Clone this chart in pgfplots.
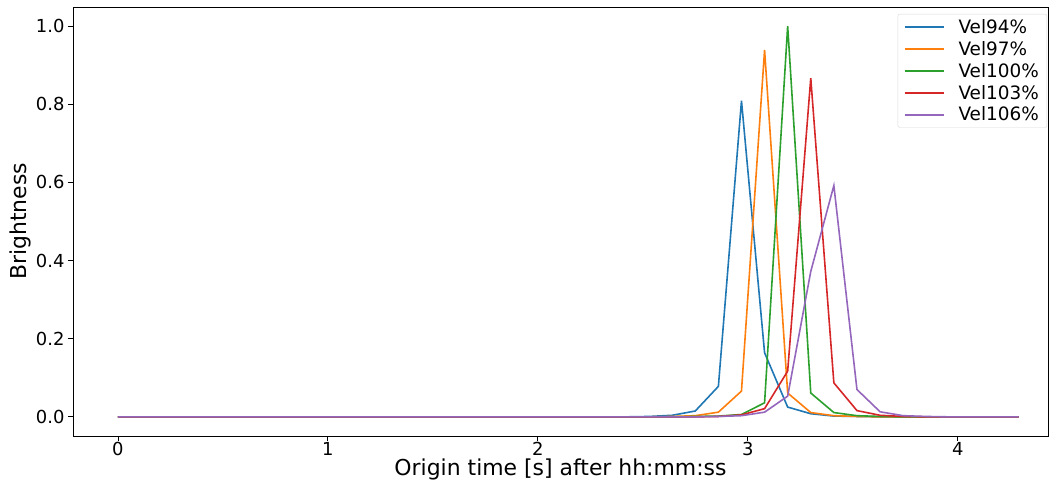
\documentclass[border=0pt]{standalone}
\usepackage{fontspec}
\setmainfont{DejaVu Sans}
\usepackage{pgfplots}
\usepackage{pgfplotstable}
\pgfplotsset{compat=1.18}
\usetikzlibrary{calc}

\definecolor{c0}{HTML}{1F77B4}
\definecolor{c1}{HTML}{FF7F0E}
\definecolor{c2}{HTML}{2CA02C}
\definecolor{c3}{HTML}{D62728}
\definecolor{c4}{HTML}{9467BD}

% brightness per origin time, one column per velocity
\pgfplotstableread{
x    v94   v97   v100  v103  v106
0.00 0     0     0     0     0
0.11 0     0     0     0     0
0.22 0     0     0     0     0
0.33 0     0     0     0     0
0.44 0     0     0     0     0
0.55 0     0     0     0     0
0.66 0     0     0     0     0
0.77 0     0     0     0     0
0.88 0     0     0     0     0
0.99 0     0     0     0     0
1.10 0     0     0     0     0
1.21 0     0     0     0     0
1.32 0     0     0     0     0
1.43 0     0     0     0     0
1.54 0     0     0     0     0
1.65 0     0     0     0     0
1.76 0     0     0     0     0
1.87 0     0     0     0     0
1.98 0     0     0     0     0
2.09 0     0     0     0     0
2.20 0     0     0     0     0
2.31 0     0     0     0     0
2.42 0     0     0     0     0
2.53 0.001 0     0     0     0
2.64 0.004 0.001 0     0     0
2.75 0.015 0.003 0.001 0     0
2.86 0.078 0.012 0.002 0.001 0.001
2.97 0.809 0.066 0.006 0.005 0.003
3.08 0.164 0.939 0.036 0.021 0.012
3.19 0.025 0.061 1.000 0.117 0.053
3.30 0.008 0.011 0.061 0.867 0.372
3.41 0.002 0.003 0.011 0.087 0.592
3.52 0.001 0.001 0.003 0.016 0.070
3.63 0     0     0.001 0.004 0.013
3.74 0     0     0     0.001 0.003
3.85 0     0     0     0     0.001
3.96 0     0     0     0     0
4.07 0     0     0     0     0
4.18 0     0     0     0     0
4.29 0     0     0     0     0
}\brightness

\begin{document}
\begin{tikzpicture}
\begin{axis}[
    name=ax,
    scale only axis,
    width=975bp, height=429bp,
    xmin=-0.214, xmax=4.43,
    ymin=-0.049, ymax=1.049,
    xtick={0,1,2,3,4},
    ytick={0,0.2,0.4,0.6,0.8,1.0},
    yticklabel style={/pgf/number format/fixed, /pgf/number format/fixed zerofill, /pgf/number format/precision=1},
    ticklabel style={font=\fontsize{18}{21}\selectfont},
    xticklabel style={inner sep=1bp},
    /pgf/number format/assume math mode=true,
    tick align=outside,
    major tick length=5bp,
    xtick pos=bottom, ytick pos=left,
    axis line style={line width=0.8bp},
    tick style={line width=0.8bp, black},
    xlabel={Origin time [s] after hh:mm:ss},
    ylabel={Brightness},
    label style={font=\fontsize{22}{25}\selectfont},
    xlabel style={yshift=1bp},
    ylabel style={yshift=-2bp},
    legend style={at={(0.999,0.984)}, anchor=north east, draw=black!15, rounded corners=2bp,
        fill=white, font=\fontsize{18.5}{21}\selectfont, row sep=2.5bp, inner xsep=6bp, inner ysep=3bp,
        /tikz/every odd column/.append style={column sep=12bp}},
    legend cell align=left,
    legend image code/.code={\draw[line width=1.6bp] (0bp,0bp) -- (39bp,0bp);},
]
\addplot[c0, line width=1.6bp] table[x=x, y=v94] {\brightness};
\addlegendentry{Vel94\%}
\addplot[c1, line width=1.6bp] table[x=x, y=v97] {\brightness};
\addlegendentry{Vel97\%}
\addplot[c2, line width=1.6bp] table[x=x, y=v100] {\brightness};
\addlegendentry{Vel100\%}
\addplot[c3, line width=1.6bp] table[x=x, y=v103] {\brightness};
\addlegendentry{Vel103\%}
\addplot[c4, line width=1.6bp] table[x=x, y=v106] {\brightness};
\addlegendentry{Vel106\%}
\end{axis}
\pgfresetboundingbox
\path[use as bounding box] ($(ax.south west)+(-73bp,-46bp)$) rectangle ($(ax.north east)+(2bp,7bp)$);
\end{tikzpicture}
\end{document}
